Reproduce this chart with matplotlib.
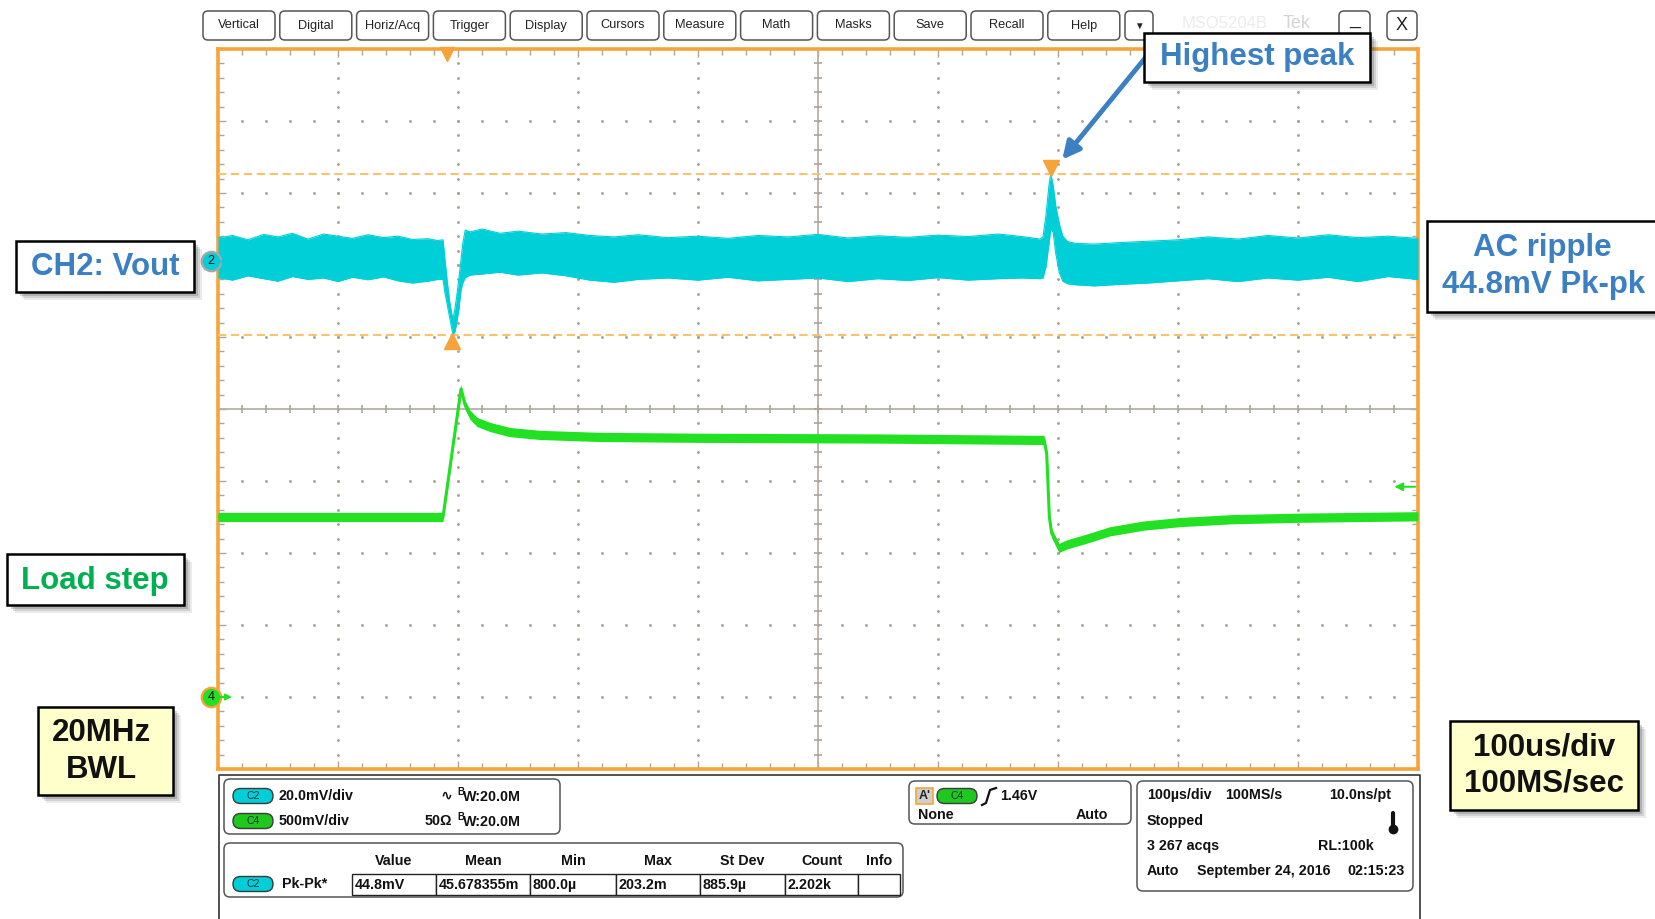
import numpy as np
import matplotlib
matplotlib.use('Agg')
import matplotlib.pyplot as plt
from matplotlib.patches import FancyBboxPatch, Rectangle
from matplotlib.ticker import MultipleLocator
from matplotlib.transforms import offset_copy

plt.rcParams['font.family'] = ['Liberation Sans', 'DejaVu Sans']

# scope settings
time_per_div = 100      # us/div
ch2_scale = 20.0        # mV/div
ch4_scale = 0.5         # V/div
ch2_offset_div = 2.05
ch4_offset_div = -4.0
trigger_time = 190.8    # us from left of screen
trigger_level = 1.46    # V
cursor_hi = 24.4        # mV
cursor_lo = -20.4       # mV
peak_time = 694.0
dip_time = 195.0

# CH2 (Vout, AC) envelope in mV
t_ch2 = [0, 12, 25, 38, 50, 62, 75, 88, 100, 112, 125, 138, 150, 162, 175, 183,
         187.5, 189, 191, 193, 195, 196, 197.5, 199, 201, 202.5, 204, 206, 210,
         220, 235, 250, 270, 290, 310, 330, 350, 375, 400, 425, 450, 475, 500,
         525, 550, 575, 600, 625, 650, 670, 685, 687.5, 690, 692.5, 694, 696,
         698, 701, 704, 708, 715, 730, 750, 775, 800, 825, 850, 875, 900, 925,
         950, 975, 1000]
ch2_upper = [6.5, 7.2, 6.0, 7.5, 6.8, 7.8, 6.2, 7.6, 7.0, 6.4, 7.4, 6.6, 7.0, 6.1, 6.3, 5.8,
             6.0, 1.0, -5.5, -11.0, -15.0, -15.7, -13.0, -9.5, -4.0, 0.5, 5.0, 8.7, 8.2,
             9.0, 7.8, 8.4, 7.6, 8.0, 7.2, 6.8, 7.4, 6.6, 7.0, 6.4, 7.2, 6.8, 7.5,
             6.5, 7.1, 6.7, 7.3, 6.9, 7.6, 6.9, 6.2, 6.8, 12.9, 21.2, 24.4, 21.0,
             15.7, 10.5, 7.0, 5.5, 5.0, 4.8, 5.2, 5.6, 6.0, 6.8, 6.2, 7.2, 6.5, 7.4,
             6.6, 7.0, 6.4]
ch2_lower = [-4.5, -5.2, -4.0, -4.8, -5.5, -4.2, -5.0, -4.6, -5.6, -4.4, -5.1, -4.3, -5.4, -6.0, -5.5, -5.0,
             -5.0, -8.5, -12.0, -15.5, -19.0, -20.4, -19.5, -17.0, -12.5, -8.0, -6.0, -4.5, -3.8,
             -3.5, -3.0, -3.8, -3.2, -4.0, -5.2, -5.8, -5.0, -4.6, -5.2, -4.4, -5.4, -5.0, -4.6,
             -5.6, -4.8, -5.3, -4.5, -5.2, -4.8, -4.6, -4.8, -4.6, -1.5, 5.0, 9.0, 8.0,
             2.5, -3.0, -5.5, -6.2, -6.5, -6.8, -6.4, -6.0, -5.4, -4.8, -5.6, -4.6, -5.2, -4.4,
             -5.6, -4.2, -5.0]

# CH4 (load step) in V
t_ch4 = [0, 100, 187.5, 202.5, 205.8, 210, 215.8, 226.7, 243, 268, 318, 402, 550,
         687.5, 688.3, 690.6, 692.8, 694.7, 700.8, 707.5, 724, 743, 771, 802, 846, 902, 1000]
v_ch4 = [1.25, 1.25, 1.25, 2.139, 2.03, 1.96, 1.91, 1.875, 1.84, 1.82, 1.806, 1.80, 1.795,
         1.785, 1.785, 1.69, 1.25, 1.139, 1.035, 1.06, 1.10, 1.15, 1.19, 1.215, 1.235, 1.245, 1.255]

menu_items = ['Vertical', 'Digital', 'Horiz/Acq', 'Trigger', 'Display', 'Cursors',
              'Measure', 'Math', 'Masks', 'Save', 'Recall', 'Help']
meas_headers = ['Value', 'Mean', 'Min', 'Max', 'St Dev', 'Count', 'Info']
meas_values = ['44.8mV', '45.678355m', '800.0µ', '203.2m', '885.9µ', '2.202k', '']

CYAN = '#00cfd8'
GREEN = '#22e022'
ORANGE = '#f6a43a'
CURSOR = '#f9c270'
BLUE = '#3b80c2'
GRID = '#aea494'

W, H = 1656, 919
fig = plt.figure(figsize=(W / 100, H / 100), dpi=100)


def fig_box(x0, y0, x1, y1):
    return [x0 / W, 1 - y1 / H, (x1 - x0) / W, (y1 - y0) / H]


# ---- graticule ----
ax = fig.add_axes(fig_box(218, 49, 1418, 769))
ax.set_xlim(0, 10 * time_per_div)
ax.set_ylim(-5, 5)
ax.xaxis.set_major_locator(MultipleLocator(time_per_div))
ax.xaxis.set_minor_locator(MultipleLocator(time_per_div / 5))
ax.yaxis.set_major_locator(MultipleLocator(1))
ax.yaxis.set_minor_locator(MultipleLocator(0.2))
ax.tick_params(which='both', direction='in', top=True, right=True, bottom=True, left=True,
               labelbottom=False, labelleft=False, color=GRID, width=1)
ax.tick_params(which='major', length=6)
ax.tick_params(which='minor', length=4)
for s in ax.spines.values():
    s.set_color(ORANGE)
    s.set_linewidth(2.6)

xs_minor = np.arange(20, 1000, 20)
ys_minor = np.arange(-4.8, 4.9, 0.2)
for yy in [-4, -3, -2, -1, 1, 2, 3, 4]:
    ax.plot(xs_minor, np.full(len(xs_minor), yy), ls='none', marker='o', ms=1.1, color=GRID)
for xx in [100, 200, 300, 400, 600, 700, 800, 900]:
    ax.plot(np.full(len(ys_minor), xx), ys_minor, ls='none', marker='o', ms=1.1, color=GRID)
ax.axhline(0, color='#b9b1a6', lw=1.3)
ax.axvline(500, color='#b9b1a6', lw=1.3)
ax.plot(xs_minor, np.zeros(len(xs_minor)), ls='none', marker='|', ms=6, mew=1.2, color=GRID)
ax.plot(np.full(len(ys_minor), 500), ys_minor, ls='none', marker='_', ms=6, mew=1.2, color=GRID)

# trigger position marker
ax.plot([trigger_time], [5], marker='v', ms=10, color=ORANGE, clip_on=False,
        transform=offset_copy(ax.transData, fig=fig, y=-5, units='dots'))

# ---- channel 2 ----
ax2 = fig.add_axes(ax.get_position())
ax2.set_xlim(ax.get_xlim())
ax2.set_ylim((-5 - ch2_offset_div) * ch2_scale, (5 - ch2_offset_div) * ch2_scale)
ax2.axis('off')
ax2.fill_between(t_ch2, ch2_lower, ch2_upper, color=CYAN, lw=0)
ax2.plot(t_ch2, ch2_upper, color=CYAN, lw=0.8)
ax2.plot(t_ch2, ch2_lower, color=CYAN, lw=0.8)
ax2.axhline(cursor_hi, color=CURSOR, lw=1.5, ls=(0, (4, 2.2)))
ax2.axhline(cursor_lo, color=CURSOR, lw=1.5, ls=(0, (4, 2.2)))
ax2.plot([peak_time], [cursor_hi], marker='v', ms=11, color=ORANGE, clip_on=False,
         transform=offset_copy(ax2.transData, fig=fig, y=6, units='dots'))
ax2.plot([dip_time], [cursor_lo], marker='^', ms=11, color=ORANGE, clip_on=False,
         transform=offset_copy(ax2.transData, fig=fig, y=-6, units='dots'))
ax2.annotate('', xy=(14, 0), xytext=(-2, 0), annotation_clip=False,
             arrowprops=dict(arrowstyle='-|>', color=CYAN, lw=1.4, mutation_scale=9))
ax2.plot([-6], [0], marker='o', ms=14, mfc=CYAN, mec='#a8a8a8', mew=1.6, clip_on=False)
ax2.text(-6, 0, '2', ha='center', va='center', fontsize=9, color='#111')
ax2.annotate('', xy=(peak_time, cursor_hi), xytext=(1146 / W, 1 - 57 / H),
             textcoords='figure fraction', annotation_clip=False,
             arrowprops=dict(arrowstyle='-|>', color=BLUE, lw=3.5, mutation_scale=26,
                             shrinkA=0, shrinkB=13))

# ---- channel 4 ----
ax4 = fig.add_axes(ax.get_position())
ax4.set_xlim(ax.get_xlim())
ax4.set_ylim((-5 - ch4_offset_div) * ch4_scale, (5 - ch4_offset_div) * ch4_scale)
ax4.axis('off')
v4 = np.array(v_ch4)
ax4.fill_between(t_ch4, v4 - 0.032, v4 + 0.032, color=GREEN, lw=0)
ax4.plot(t_ch4, v4, color=GREEN, lw=2.2)
ax4.annotate('', xy=(978, trigger_level), xytext=(1000, trigger_level), annotation_clip=False,
             arrowprops=dict(arrowstyle='-|>', color=GREEN, lw=1.4, mutation_scale=12))
ax4.annotate('', xy=(14, 0), xytext=(-2, 0), annotation_clip=False,
             arrowprops=dict(arrowstyle='-|>', color=GREEN, lw=1.4, mutation_scale=9))
ax4.plot([-6], [0], marker='o', ms=14, mfc=GREEN, mec=ORANGE, mew=1.6, clip_on=False)
ax4.text(-6, 0, '4', ha='center', va='center', fontsize=9, color='#111')

# ---- overlay: menus, readouts, callouts ----
ov = fig.add_axes([0, 0, 1, 1])
ov.set_xlim(0, W)
ov.set_ylim(H, 0)
ov.axis('off')
ov.set_zorder(10)


def rbox(x0, y0, x1, y1, r=5, fc='white', ec='#555555', lw=1.1):
    ov.add_patch(FancyBboxPatch((x0, y0), x1 - x0, y1 - y0,
                                boxstyle=f'round,pad=0,rounding_size={r}',
                                fc=fc, ec=ec, lw=lw))


def pill(cx, cy, label, color):
    rbox(cx - 20, cy - 7.5, cx + 20, cy + 7.5, r=7.5, fc=color, ec='#3a3a3a', lw=1)
    ov.text(cx, cy, label, ha='center', va='center', fontsize=7.5, color='#10323a')


def callout(x0, y0, x1, y1, fc='white'):
    for k, a in [(8, 0.10), (6, 0.15), (4, 0.22)]:
        ov.add_patch(Rectangle((x0 + k, y0 + k), x1 - x0, y1 - y0, fc='#404040', ec='none', alpha=a))
    ov.add_patch(Rectangle((x0, y0), x1 - x0, y1 - y0, fc=fc, ec='black', lw=1.8))


for i, name in enumerate(menu_items):
    x0 = 203 + i * 76.8
    rbox(x0, 11, x0 + 72, 40)
    ov.text(x0 + 36, 25.5, name, ha='center', va='center', fontsize=9.2, color='#222')
rbox(1125, 11, 1153, 40)
ov.text(1139, 26, '▼', ha='center', va='center', fontsize=7, color='#222')
ov.text(1225, 24, 'MSO5204B', ha='center', va='center', fontsize=12, color='#ececec')
ov.text(1297, 24, 'Tek', ha='center', va='center', fontsize=13, color='#d4d4d4')
rbox(1339, 11, 1370, 40)
ov.text(1354.5, 28, '_', ha='center', va='bottom', fontsize=14, color='#222')
rbox(1387, 11, 1417, 40)
ov.text(1402, 26, 'X', ha='center', va='center', fontsize=13, color='#222')

# readout panel frame
ov.plot([219, 219, 1420, 1420], [919, 775, 775, 919], color='#333', lw=1.2)

# channel box
rbox(224, 779, 560, 834, r=6)
for cy, lab, col, scale, extra in [(796, 'C2', CYAN, '20.0mV/div', '∿'),
                                   (821, 'C4', '#1ec81e', '500mV/div', '50Ω')]:
    pill(253, cy, lab, col)
    ov.text(279, cy, scale, ha='left', va='center', fontsize=10.3, fontweight='bold', color='#111')
    ov.text(452, cy, extra, ha='right', va='center', fontsize=10.3, fontweight='bold', color='#111')
    ov.text(457, cy - 4, 'B', ha='left', va='center', fontsize=7, fontweight='bold', color='#111')
    ov.text(463, cy + 1, 'W:20.0M', ha='left', va='center', fontsize=10.3, fontweight='bold', color='#111')

# measurement box
rbox(224, 843, 903, 897, r=6)
col_edges = [352, 436, 530, 616, 700, 785, 858, 900]
for j, hdr in enumerate(meas_headers):
    ov.text((col_edges[j] + col_edges[j + 1]) / 2, 861, hdr, ha='center', va='center',
            fontsize=10.3, fontweight='bold', color='#111')
    ov.add_patch(Rectangle((col_edges[j], 874), col_edges[j + 1] - col_edges[j], 21,
                           fc='white', ec='#222', lw=1))
    ov.text(col_edges[j] + 3, 885, meas_values[j], ha='left', va='center',
            fontsize=10.3, fontweight='bold', color='#111')
pill(253, 884, 'C2', CYAN)
ov.text(282, 884, 'Pk-Pk*', ha='left', va='center', fontsize=10.3, fontweight='bold', color='#111')

# trigger box
rbox(909, 781, 1131, 824, r=6)
ov.add_patch(Rectangle((916, 788), 17, 16, fc='#cfcfcf', ec=ORANGE, lw=1.2))
ov.text(924.5, 796, "A'", ha='center', va='center', fontsize=9, fontweight='bold', color='#222')
pill(957, 796, 'C4', '#1ec81e')
ov.plot([982, 986, 990, 996], [805, 803, 790, 788], color='#111', lw=1.6)
ov.text(1000, 796, f'{trigger_level:.2f}V', ha='left', va='center', fontsize=10.3,
        fontweight='bold', color='#111')
ov.text(918, 815, 'None', ha='left', va='center', fontsize=10.3, fontweight='bold', color='#111')
ov.text(1108, 815, 'Auto', ha='right', va='center', fontsize=10.3, fontweight='bold', color='#111')

# horizontal / acquisition box
rbox(1137, 781, 1413, 891, r=6)
rows = [(795, [('100µs/div', 1147, 'left'), ('100MS/s', 1225, 'left'), ('10.0ns/pt', 1391, 'right')]),
        (821, [('Stopped', 1147, 'left')]),
        (846, [('3 267 acqs', 1147, 'left'), ('RL:100k', 1318, 'left')]),
        (871, [('Auto', 1147, 'left'), ('September 24, 2016', 1197, 'left'), ('02:15:23', 1405, 'right')])]
for yy, items in rows:
    for txt, xx, ha in items:
        ov.text(xx, yy, txt, ha=ha, va='center', fontsize=10.3, fontweight='bold', color='#111')
ov.plot([1393, 1393], [813, 826], color='#111', lw=3, solid_capstyle='round')
ov.plot([1393], [829], marker='o', ms=6, color='#111')

# callouts
callout(1144, 33, 1370, 82)
ov.text(1257, 57, 'Highest peak', ha='center', va='center', fontsize=22.5, fontweight='bold', color=BLUE)
callout(16, 241, 194, 292)
ov.text(105, 267, 'CH2: Vout', ha='center', va='center', fontsize=22.5, fontweight='bold', color=BLUE)
callout(1427, 221, 1664, 312)
ov.text(1542, 248, 'AC ripple', ha='center', va='center', fontsize=22.5, fontweight='bold', color=BLUE)
ov.text(1544, 285, f'{cursor_hi - cursor_lo:.1f}mV Pk-pk', ha='center', va='center',
        fontsize=22.5, fontweight='bold', color=BLUE)
callout(7, 554, 184, 605)
ov.text(95, 581, 'Load step', ha='center', va='center', fontsize=22.5, fontweight='bold', color='#00b050')
callout(38, 707, 173, 795, fc='#ffffcc')
ov.text(101, 733, '20MHz', ha='center', va='center', fontsize=22.5, fontweight='bold', color='#111')
ov.text(101, 770, 'BWL', ha='center', va='center', fontsize=22.5, fontweight='bold', color='#111')
callout(1450, 721, 1638, 810, fc='#ffffcc')
ov.text(1544, 747, '100us/div', ha='center', va='center', fontsize=22.5, fontweight='bold', color='#111')
ov.text(1544, 783, '100MS/sec', ha='center', va='center', fontsize=22.5, fontweight='bold', color='#111')

fig.savefig('out.png', dpi=100)
